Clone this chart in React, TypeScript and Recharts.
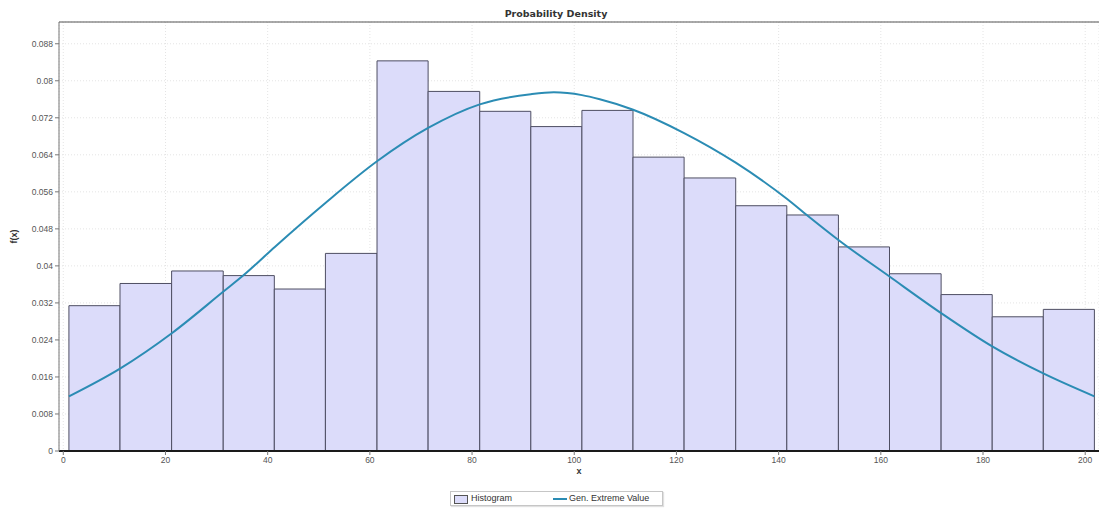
import React from 'react';
import {
  ComposedChart,
  Line,
  XAxis,
  YAxis,
  CartesianGrid,
  ReferenceArea,
  ReferenceLine,
} from 'recharts';

// Histogram bin edges (x) and density heights
const binEdges = [
  1.1, 11.1, 21.2, 31.3, 41.3, 51.3, 61.4, 71.4, 81.5, 91.5, 101.5, 111.5,
  121.5, 131.6, 141.6, 151.7, 161.7, 171.8, 181.8, 191.8, 201.8,
];
const binHeights = [
  0.0314, 0.0362, 0.0389, 0.0379, 0.035, 0.0427, 0.0843, 0.0777, 0.0734,
  0.0701, 0.0736, 0.0635, 0.059, 0.053, 0.051, 0.0441, 0.0383, 0.0338, 0.029,
  0.0306,
];

// Gen. Extreme Value fitted density
const curveX = [
  1.1, 11.1, 21.3, 31.4, 35.2, 41.4, 51.3, 61.4, 71.4, 81.5, 91.5, 96, 101.5,
  105, 111.4, 121.5, 131.6, 141.6, 145.5, 151.7, 161.7, 171.8, 181.8, 191.9,
  201.8,
];
const curveY = [
  0.0118, 0.0178, 0.0255, 0.0345, 0.0379, 0.0441, 0.0536, 0.0626, 0.0698,
  0.0749, 0.0771, 0.0775, 0.0769, 0.076, 0.0738, 0.0687, 0.0623, 0.0545,
  0.051, 0.0456, 0.0377, 0.0298, 0.0226, 0.0167, 0.0118,
];

const xTicks = [0, 20, 40, 60, 80, 100, 120, 140, 160, 180, 200];
const xMinorTicks = [
  0, 5, 10, 15, 20, 25, 30, 35, 40, 45, 50, 55, 60, 65, 70, 75, 80, 85, 90, 95,
  100, 105, 110, 115, 120, 125, 130, 135, 140, 145, 150, 155, 160, 165, 170,
  175, 180, 185, 190, 195, 200,
];
const yTicks = [
  0, 0.008, 0.016, 0.024, 0.032, 0.04, 0.048, 0.056, 0.064, 0.072, 0.08, 0.088,
];
const yMinorTicks = [
  0, 0.002, 0.004, 0.006, 0.008, 0.01, 0.012, 0.014, 0.016, 0.018, 0.02, 0.022,
  0.024, 0.026, 0.028, 0.03, 0.032, 0.034, 0.036, 0.038, 0.04, 0.042, 0.044,
  0.046, 0.048, 0.05, 0.052, 0.054, 0.056, 0.058, 0.06, 0.062, 0.064, 0.066,
  0.068, 0.07, 0.072, 0.074, 0.076, 0.078, 0.08, 0.082, 0.084, 0.086, 0.088,
  0.09, 0.092,
];

const X_DOMAIN: [number, number] = [-0.84, 202.7];
const Y_MAX = 0.0927;

const TITLE = 'Probability Density';
const X_LABEL = 'x';
const Y_LABEL = 'f(x)';
const LEGEND_HIST = 'Histogram';
const LEGEND_CURVE = 'Gen. Extreme Value';

const BAR_FILL = '#dcdcfa';
const BAR_STROKE = '#4e4e62';
const LINE_COLOR = '#2b8cb4';
const FONT = '"Liberation Sans", Arial, sans-serif';
const TITLE_FONT = '"DejaVu Sans", Verdana, sans-serif';

const curveData = curveX.map((x, i) => ({ x, y: curveY[i] }));
const bins = binHeights.map((h, i) => ({
  x1: binEdges[i],
  x2: binEdges[i + 1],
  h,
}));

const tickStyle = { fontSize: 8.5, fill: '#555', fontFamily: FONT };

const YLabel = (props: any) => {
  const vb = props.viewBox || {};
  const cx = 14;
  const cy = (vb.y || 0) + (vb.height || 0) / 2;
  return (
    <text
      x={cx}
      y={cy}
      transform={`rotate(-90, ${cx}, ${cy})`}
      textAnchor="middle"
      dominantBaseline="central"
      fontSize={9}
      fontWeight="bold"
      fontFamily={FONT}
      fill="#333"
    >
      {Y_LABEL}
    </text>
  );
};

const XLabel = (props: any) => {
  const vb = props.viewBox || {};
  const cx = (vb.x || 0) + (vb.width || 0) / 2;
  const cy = (vb.y || 0) + 20;
  return (
    <text
      x={cx}
      y={cy}
      textAnchor="middle"
      dominantBaseline="central"
      fontSize={9}
      fontWeight="bold"
      fontFamily={FONT}
      fill="#333"
    >
      {X_LABEL}
    </text>
  );
};

const NoLabel = () => <g />;

export default function App() {
  return (
    <div
      style={{
        position: 'absolute',
        left: 0,
        top: 0,
        width: 1099,
        height: 510,
        background: '#fff',
      }}
    >
      <ComposedChart
        width={1099}
        height={510}
        data={curveData}
        margin={{ top: 22, right: 0, bottom: 0, left: 0 }}
      >
        <CartesianGrid stroke="#e4e4e4" strokeDasharray="1 2" />
        <XAxis
          xAxisId="minor"
          type="number"
          dataKey="x"
          domain={X_DOMAIN}
          ticks={xMinorTicks}
          interval={0}
          allowDataOverflow
          height={0}
          tickSize={2}
          axisLine={false}
          tickLine={{ stroke: '#999' }}
          tick={<NoLabel />}
        />
        <YAxis
          yAxisId="minor"
          type="number"
          domain={[0, Y_MAX]}
          ticks={yMinorTicks}
          interval={0}
          allowDataOverflow
          width={0}
          tickSize={2}
          axisLine={false}
          tickLine={{ stroke: '#999' }}
          tick={<NoLabel />}
        />
        <XAxis
          type="number"
          dataKey="x"
          domain={X_DOMAIN}
          ticks={xTicks}
          interval={0}
          allowDataOverflow
          height={59}
          tickSize={4}
          tickMargin={2}
          axisLine={{ stroke: '#1a1a1a', strokeWidth: 2 }}
          tickLine={{ stroke: '#777' }}
          tick={tickStyle}
          label={<XLabel />}
        />
        <YAxis
          type="number"
          domain={[0, Y_MAX]}
          ticks={yTicks}
          interval={0}
          allowDataOverflow
          width={59}
          tickSize={4}
          tickMargin={2}
          axisLine={{ stroke: '#777' }}
          tickLine={{ stroke: '#777' }}
          tick={tickStyle}
          label={<YLabel />}
        />
        {bins.map((b, i) => (
          <ReferenceArea
            key={i}
            x1={b.x1}
            x2={b.x2}
            y1={0}
            y2={b.h}
            fill={BAR_FILL}
            fillOpacity={1}
            stroke={BAR_STROKE}
            strokeWidth={1}
          />
        ))}
        <ReferenceLine y={Y_MAX} stroke="#555" strokeWidth={1} />
        <Line
          dataKey="y"
          type="monotone"
          stroke={LINE_COLOR}
          strokeWidth={2}
          dot={false}
          activeDot={false}
          isAnimationActive={false}
        />
      </ComposedChart>

      <div
        style={{
          position: 'absolute',
          left: 456,
          top: 8,
          width: 200,
          textAlign: 'center',
          fontFamily: TITLE_FONT,
          fontWeight: 'bold',
          fontSize: 9.5,
          lineHeight: '11px',
          color: '#333',
        }}
      >
        {TITLE}
      </div>

      <div
        style={{
          position: 'absolute',
          left: 450,
          top: 491,
          width: 213,
          height: 15,
          border: '1px solid #c6c6c6',
          boxShadow: '1px 1px 1px #e0e0e0',
          fontFamily: FONT,
          fontSize: 9,
          color: '#333',
          boxSizing: 'border-box',
        }}
      >
        <div
          style={{
            position: 'absolute',
            left: 3,
            top: 3,
            width: 12,
            height: 7,
            background: BAR_FILL,
            border: '1px solid #555',
          }}
        />
        <div
          style={{
            position: 'absolute',
            left: 20,
            top: 1,
            lineHeight: '11px',
            whiteSpace: 'nowrap',
          }}
        >
          {LEGEND_HIST}
        </div>
        <div
          style={{
            position: 'absolute',
            left: 102,
            top: 6,
            width: 14,
            height: 2,
            background: LINE_COLOR,
          }}
        />
        <div
          style={{
            position: 'absolute',
            left: 118,
            top: 1,
            lineHeight: '11px',
            whiteSpace: 'nowrap',
          }}
        >
          {LEGEND_CURVE}
        </div>
      </div>
    </div>
  );
}
